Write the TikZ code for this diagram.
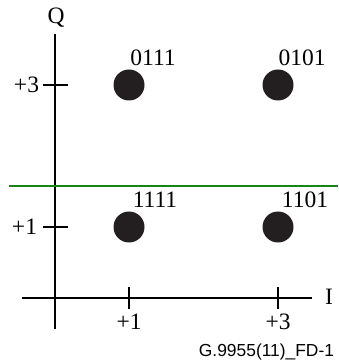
\documentclass[tikz,border=0pt]{standalone}
\usepackage{fontspec}
\setmainfont{Liberation Serif}
\newfontfamily\figfont{Liberation Sans}
\usepackage{tikz}
\usetikzlibrary{positioning}
\definecolor{splitgreen}{HTML}{17861A}
\definecolor{dotblack}{HTML}{231F20}

\begin{document}
\begin{tikzpicture}[x=0.5pt,y=-0.5pt,line width=1pt,
    every node/.style={font=\fontsize{11.75}{13}\selectfont,inner sep=0pt},
    point/.style={circle,fill=dotblack,minimum size=15.5pt},
    tick/.style={line width=1pt}]
  \useasboundingbox (0,0) rectangle (338,362);
  % axes
  \coordinate (qtop) at (55,34);
  \coordinate (qbot) at (55,329);
  \coordinate (ileft) at (22,298);
  \coordinate (iright) at (312,298);
  \draw (qbot) -- (qtop);
  \draw (ileft) -- (iright);
  \node (qlab) at (56,18) {Q};
  \node (ilab) at (329,297) {I};
  % ticks
  \draw[tick] (43,85) -- (68,85);
  \draw[tick] (43,227) -- (68,227);
  \draw[tick] (129,287) -- (129,309);
  \draw[tick] (278,287) -- (278,309);
  \node[anchor=east] (y3) at (40,85) {+3};
  \node[anchor=east] (y1) at (38,227) {+1};
  \node (x1) at (129,322) {+1};
  \node (x3) at (278,322) {+3};
  % decision boundary
  \draw[splitgreen] (9,186) -- (338,186);
  % points
  \node[point] (p0111) at (129,85) {};
  \node[point] (p0101) at (278,85) {};
  \node[point] (p1111) at (129,227) {};
  \node[point] (p1101) at (278,227) {};
  \node (l0111) at (153,58) {0111};
  \node (l0101) at (302,58) {0101};
  \node (l1111) at (155,200) {1111};
  \node (l1101) at (305,200) {1101};
  \node[anchor=east,font=\figfont\fontsize{8.7}{10}\selectfont] (fig) at (335,352) {G.9955(11)\_FD-1};
\end{tikzpicture}
\end{document}
